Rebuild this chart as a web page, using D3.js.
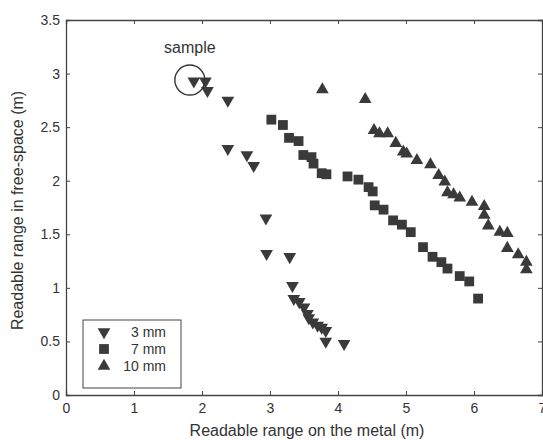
<!DOCTYPE html>
<html>
<head>
<meta charset="utf-8">
<script src="https://cdn.jsdelivr.net/npm/d3@7"></script>
<style>
  body { margin: 0; background: #fff; }
  text { font-family: "Liberation Sans", Arial, sans-serif; fill: #333; }
</style>
</head>
<body>
<div id="chart"></div>
<script>
var width = 543,
    height = 440;

// readings (metal range, free-space range)
const mm3X = [1.88, 2.05, 2.08, 2.38, 2.38, 2.66, 2.76, 2.94, 2.95, 3.29, 3.33, 3.35, 3.43, 3.50, 3.55, 3.57, 3.63, 3.70, 3.76, 3.82, 3.82, 4.09];
const mm3Y = [2.93, 2.93, 2.84, 2.75, 2.30, 2.24, 2.14, 1.65, 1.32, 1.29, 1.02, 0.90, 0.87, 0.82, 0.76, 0.72, 0.68, 0.65, 0.63, 0.60, 0.50, 0.48];

const mm7X = [3.02, 3.19, 3.28, 3.42, 3.49, 3.61, 3.64, 3.76, 3.83, 4.14, 4.30, 4.45, 4.51, 4.54, 4.67, 4.81, 4.94, 5.07, 5.25, 5.39, 5.52, 5.61, 5.79, 5.93, 6.06];
const mm7Y = [2.57, 2.52, 2.40, 2.37, 2.24, 2.22, 2.16, 2.07, 2.06, 2.04, 2.01, 1.94, 1.90, 1.77, 1.73, 1.63, 1.59, 1.52, 1.38, 1.29, 1.24, 1.18, 1.11, 1.06, 0.90];

const mm10X = [3.77, 4.40, 4.53, 4.61, 4.73, 4.85, 4.96, 5.01, 5.16, 5.36, 5.48, 5.57, 5.61, 5.70, 5.79, 5.97, 6.15, 6.15, 6.21, 6.38, 6.49, 6.49, 6.65, 6.77, 6.77];
const mm10Y = [2.85, 2.76, 2.47, 2.44, 2.44, 2.35, 2.27, 2.25, 2.19, 2.15, 2.05, 1.99, 1.89, 1.87, 1.84, 1.80, 1.76, 1.68, 1.58, 1.52, 1.51, 1.37, 1.31, 1.24, 1.17];

const xTicks = [0, 1, 2, 3, 4, 5, 6, 7];
const yTicks = [0, 0.5, 1, 1.5, 2, 2.5, 3, 3.5];
const seriesNames = ["3 mm", "7 mm", "10 mm"];

// sample point that gets circled
const sampleX = 1.88, sampleY = 2.93;

var margin = {left: 66, right: 1, top: 20, bottom: 45};

var x = d3.scaleLinear().domain([0, 7]).range([margin.left, width - margin.right]);
var y = d3.scaleLinear().domain([0, 3.5]).range([height - margin.bottom, margin.top]);

var svg = d3.select("#chart").append("svg")
    .attr("width", width)
    .attr("height", height);

var axisColor = "#444";

// axes on all four sides, ticks pointing in
svg.append("g")
    .attr("transform", "translate(0," + y(0) + ")")
    .call(d3.axisBottom(x).tickValues(xTicks).tickSize(-4).tickPadding(8).tickFormat(d3.format("d")))
    .call(g => g.selectAll("text").attr("font-size", "14px"));

svg.append("g")
    .attr("transform", "translate(0," + y(3.5) + ")")
    .call(d3.axisTop(x).tickValues(xTicks).tickSize(-4).tickFormat(""));

svg.append("g")
    .attr("transform", "translate(" + x(0) + ",0)")
    .call(d3.axisLeft(y).tickValues(yTicks).tickSize(-4).tickPadding(6).tickFormat(d => d))
    .call(g => g.selectAll("text").attr("font-size", "14px"));

svg.append("g")
    .attr("transform", "translate(" + x(7) + ",0)")
    .call(d3.axisRight(y).tickValues(yTicks).tickSize(-4).tickFormat(""));

svg.selectAll(".domain").attr("stroke", axisColor).attr("stroke-width", 1.3);
svg.selectAll(".tick line").attr("stroke", axisColor);
svg.selectAll(".tick text").attr("fill", "#333").attr("font-family", "Liberation Sans, Arial, sans-serif");

// axis titles
svg.append("text")
    .attr("x", (x(0) + x(7)) / 2 + 3)
    .attr("y", 436)
    .attr("text-anchor", "middle")
    .attr("font-size", "16px")
    .text("Readable range on the metal (m)");

svg.append("text")
    .attr("transform", "translate(23," + ((y(0) + y(3.5)) / 2 + 3) + ") rotate(-90)")
    .attr("text-anchor", "middle")
    .attr("font-size", "16px")
    .text("Readable range in free-space (m)");

var markColor = "#3a3a3a";
var triDown = d3.symbol().type(d3.symbolTriangle).size(70);
var triUp = d3.symbol().type(d3.symbolTriangle).size(70);
var square = d3.symbol().type(d3.symbolSquare).size(96);

function plotSeries(xs, ys, sym, rot) {
    svg.append("g").selectAll("path")
        .data(xs.map((d, i) => [d, ys[i]]))
        .join("path")
        .attr("d", sym)
        .attr("transform", d => "translate(" + x(d[0]) + "," + y(d[1]) + ") rotate(" + rot + ")")
        .attr("fill", markColor);
}

plotSeries(mm3X, mm3Y, triDown, 180);
plotSeries(mm7X, mm7Y, square, 0);
plotSeries(mm10X, mm10Y, triUp, 0);

// sample annotation
svg.append("circle")
    .attr("cx", x(sampleX) - 4)
    .attr("cy", y(sampleY) - 1)
    .attr("r", 15)
    .attr("fill", "none")
    .attr("stroke", "#333")
    .attr("stroke-width", 1.4);

svg.append("text")
    .attr("x", x(sampleX) - 4)
    .attr("y", 53)
    .attr("text-anchor", "middle")
    .attr("font-size", "16px")
    .text("sample");

// legend
var legend = svg.append("g").attr("transform", "translate(83,320)");
legend.append("rect")
    .attr("width", 98)
    .attr("height", 68)
    .attr("fill", "#fff")
    .attr("stroke", "#444")
    .attr("stroke-width", 1);

var legSyms = [[triDown, 180], [square, 0], [triUp, 0]];
seriesNames.forEach(function (name, i) {
    var ly = 12 + i * 17;
    legend.append("path")
        .attr("d", legSyms[i][0])
        .attr("transform", "translate(21," + ly + ") rotate(" + legSyms[i][1] + ")")
        .attr("fill", markColor);
    legend.append("text")
        .attr("x", 83)
        .attr("y", ly + 5)
        .attr("text-anchor", "end")
        .attr("font-size", "14px")
        .text(name);
});
</script>
</body>
</html>
